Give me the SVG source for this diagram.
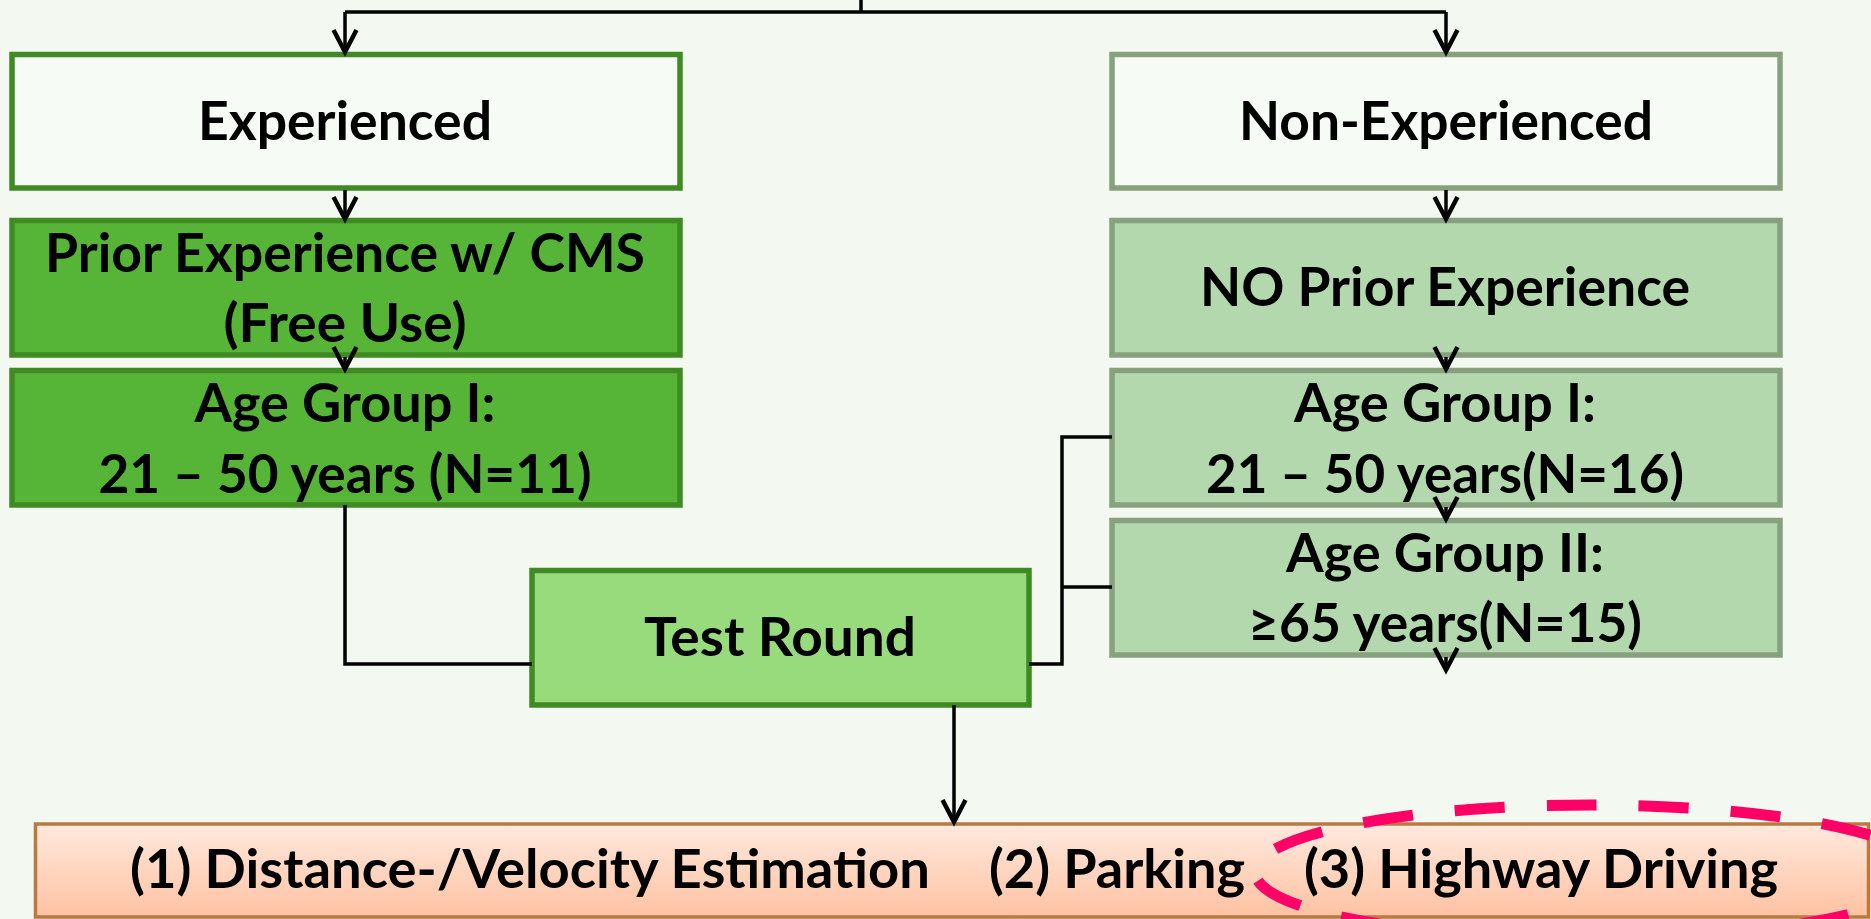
<svg xmlns="http://www.w3.org/2000/svg" width="1871" height="919" viewBox="0 0 1871 919">
<style>
.t{font-family:Lato,"Liberation Sans",sans-serif;font-weight:bold;font-size:54px;fill:#000;text-anchor:middle}
.ts{font-family:Lato,"Liberation Sans",sans-serif;font-weight:bold;font-size:54px;fill:#000}
.c{fill:none;stroke:#000;stroke-width:3.5}
.ca{fill:none;stroke:#000;stroke-width:3.5;marker-end:url(#ah)}
.dk{fill:#56b536;stroke:#3f8a23;stroke-width:5.5}
.lt{fill:#f7fbf5;stroke:#3f8a23;stroke-width:5.5}
.lg{fill:#f7fbf5;stroke:#87a17f;stroke-width:5.5}
.tr{fill:#97db7c;stroke:#3f8a23;stroke-width:5.5}
.gr{fill:#b3d8ae;stroke:#87a17f;stroke-width:5.5}
</style>
<defs>
<marker id="ah" markerUnits="userSpaceOnUse" markerWidth="40" markerHeight="40" viewBox="-30 -20 40 40" refX="0" refY="0" orient="auto" overflow="visible">
<path d="M-22,-11.5 L0,0 L-22,11.5" fill="none" stroke="#000" stroke-width="4.5" stroke-linejoin="miter"/>
</marker>
<linearGradient id="pg" x1="0" y1="0" x2="0" y2="1">
<stop offset="0" stop-color="#ffe9de"/>
<stop offset="1" stop-color="#ffc2a2"/>
</linearGradient>
</defs>
<rect x="0" y="0" width="1871" height="919" fill="#f3f9f1"/>

<g id="experienced"><rect class="lt" x="12" y="54.5" width="668" height="133.5"/><text class="t" x="345" y="140" textLength="294" lengthAdjust="spacingAndGlyphs">Experienced</text></g>
<g id="non-experienced"><rect class="lg" x="1112" y="54.5" width="668" height="133.5"/><text class="t" x="1446" y="140" textLength="414" lengthAdjust="spacingAndGlyphs">Non-Experienced</text></g>
<g id="prior-experience"><rect class="dk" x="12" y="220.5" width="668" height="134.5"/><text class="t" x="345" y="272" textLength="600" lengthAdjust="spacingAndGlyphs">Prior Experience w/ CMS</text><text class="t" x="345" y="342" textLength="243" lengthAdjust="spacingAndGlyphs">(Free Use)</text></g>
<g id="no-prior-experience"><rect class="gr" x="1112" y="220.5" width="668" height="134.5"/><text class="t" x="1445" y="306" textLength="490" lengthAdjust="spacingAndGlyphs">NO Prior Experience</text></g>
<g id="age-group-1-exp"><rect class="dk" x="12" y="370.5" width="668" height="134.5"/><text class="t" x="345" y="422" textLength="301" lengthAdjust="spacingAndGlyphs">Age Group I:</text><text class="t" x="345" y="493" textLength="493" lengthAdjust="spacingAndGlyphs">21 – 50 years (N=11)</text></g>
<g id="age-group-1-nonexp"><rect class="gr" x="1112" y="370.5" width="668" height="134.5"/><text class="t" x="1445" y="422" textLength="302" lengthAdjust="spacingAndGlyphs">Age Group I:</text><text class="t" x="1445" y="493" textLength="478" lengthAdjust="spacingAndGlyphs">21 – 50 years(N=16)</text></g>
<g id="age-group-2-nonexp"><rect class="gr" x="1112" y="520.5" width="668" height="134.5"/><text class="t" x="1445" y="572" textLength="318" lengthAdjust="spacingAndGlyphs">Age Group II:</text><text class="t" x="1445" y="642" textLength="394" lengthAdjust="spacingAndGlyphs">≥65 years(N=15)</text></g>
<g id="test-round"><rect class="tr" x="532" y="570.5" width="497" height="134.5"/><text class="t" x="780" y="656" textLength="272" lengthAdjust="spacingAndGlyphs">Test Round</text></g>
<g id="tasks"><rect x="35.5" y="824" width="1833" height="93" fill="url(#pg)" stroke="#b97a40" stroke-width="3.5"/>
<text class="ts" x="130" y="888" textLength="800" lengthAdjust="spacingAndGlyphs">(1) Distance-/Velocity Estimation</text>
<text class="ts" x="989" y="888" textLength="256" lengthAdjust="spacingAndGlyphs">(2) Parking</text>
<text class="ts" x="1304" y="888" textLength="474" lengthAdjust="spacingAndGlyphs">(3) Highway Driving</text></g>

<g id="connectors">
<path class="c" d="M861,0 V12 M345,12 H1446"/>
<path class="ca" d="M345,12 V52"/>
<path class="ca" d="M1446,12 V52"/>
<path class="ca" d="M345,190 V219"/>
<path class="ca" d="M1446,190 V219"/>
<path class="ca" d="M345,357 V369"/>
<path class="ca" d="M1446,357 V369"/>
<path class="ca" d="M1446,507 V519"/>
<path class="ca" d="M1446,657 V670"/>
<path class="c" d="M345,505 V664 H532"/>
<path class="c" d="M1029,664 H1062 V437 H1112"/>
<path class="c" d="M1062,587 H1112"/>
<path class="ca" d="M954,705 V822"/>
</g>
<g id="highlight"><ellipse cx="1590" cy="872" rx="335" ry="67" fill="none" stroke="#ff0066" stroke-width="11" stroke-dasharray="50 42"/></g>
</svg>
